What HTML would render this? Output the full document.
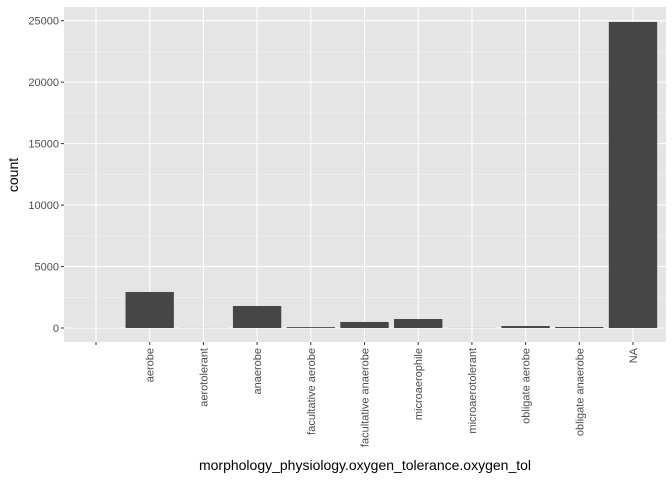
<!DOCTYPE html>
<html><head><meta charset="utf-8"><style>
body{margin:0;background:#fff;font-family:"Liberation Sans",sans-serif}
</style></head><body>
<svg id="c" width="672" height="480" xmlns="http://www.w3.org/2000/svg"></svg>
<script>
const categories=["","aerobe","aerotolerant","anaerobe","facultative aerobe","facultative anaerobe","microaerophile","microaerotolerant","obligate aerobe","obligate anaerobe","NA"];
const counts=[5,2930,8,1790,70,490,730,10,160,80,24900];
const yTicks=[0,5000,10000,15000,20000,25000];
const yTickLabels=["0","5000","10000","15000","20000","25000"];
const ns="http://www.w3.org/2000/svg";
const svg=document.getElementById('c');
const L=64,R=666,T=7,B=342;
const x0=96,step=(633-96)/10;
function xs(i){return x0+i*step;}
function ys(v){return 328-(v/25000)*(328-20.7);}
function mk(tag,a,p){const e=document.createElementNS(ns,tag);for(const k in a)e.setAttribute(k,a[k]);(p||svg).appendChild(e);return e;}
const bg=mk('rect',{x:L,y:T,width:R-L,height:B-T,fill:'#e5e5e5'});


// minor grid
for(let i=0;i<yTicks.length-1;i++){const v=(yTicks[i]+yTicks[i+1])/2;const l=mk('line',{x1:L,x2:R,y1:ys(v),y2:ys(v),stroke:'#f2f2f2','stroke-width':0.6});

}
yTicks.forEach((v,i)=>{const l=mk('line',{x1:L,x2:R,y1:ys(v),y2:ys(v),stroke:'#fff','stroke-width':1.1});


const tk=mk('line',{x1:L-3,x2:L,y1:ys(v),y2:ys(v),stroke:'#333','stroke-width':1});


const t=mk('text',{x:L-5,y:ys(v)+4,'text-anchor':'end','font-size':11,fill:'#4d4d4d'});t.textContent=yTickLabels[i];

});
categories.forEach((c,i)=>{const x=xs(i);
const g=mk('line',{x1:x,x2:x,y1:T,y2:B,stroke:'#fff','stroke-width':1.1});


const w=step*0.9;const top=ys(counts[i]);
const b=mk('rect',{x:x-w/2,y:top,width:w,height:Math.max(0,ys(0)-top),fill:'#464646'});


const tk=mk('line',{x1:x,x2:x,y1:B,y2:B+3,stroke:'#333','stroke-width':1});


const t=mk('text',{x:0,y:0,'text-anchor':'end','font-size':11,fill:'#4d4d4d',transform:`translate(${x+4},${B+6}) rotate(-90)`});t.textContent=c;

});
const xt=mk('text',{x:365,y:470,'text-anchor':'middle','font-size':14,fill:'#000'});xt.textContent='morphology_physiology.oxygen_tolerance.oxygen_tol';


const yt=mk('text',{x:0,y:0,'text-anchor':'middle','font-size':14,fill:'#000',transform:'translate(18,175) rotate(-90)'});yt.textContent='count';


</script>
</body></html>
